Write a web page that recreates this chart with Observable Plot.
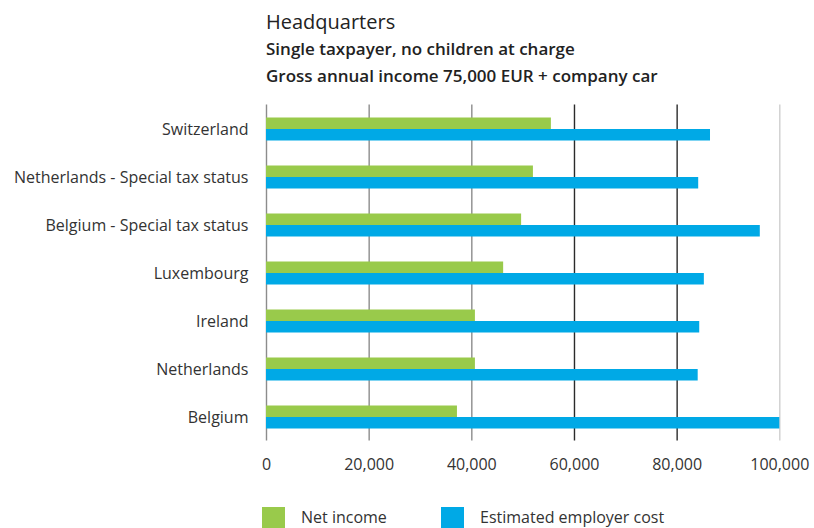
<!DOCTYPE html>
<html>
<head>
<meta charset="utf-8">
<script src="https://cdn.jsdelivr.net/npm/d3@7"></script>
<script src="https://cdn.jsdelivr.net/npm/@observablehq/plot@0.6"></script>
<style>
  html, body { margin: 0; padding: 0; background: #fff; }
  body { width: 814px; height: 528px; position: relative; overflow: hidden; font-family: "Open Sans", sans-serif; color: #333; }
  .t { position: absolute; left: 266px; white-space: nowrap; line-height: 1; color: #222; }
  #title { top: 11.5px; font-size: 20px; }
  #sub1 { top: 40px; font-size: 17px; font-weight: 600; }
  #sub2 { top: 66.6px; font-size: 17px; font-weight: 600; }
  #chart { position: absolute; left: 0; top: 90px; }
  .sw { position: absolute; top: 507px; width: 23px; height: 23px; }
  .lt { position: absolute; top: 509px; font-size: 16px; line-height: 1; color: #333; white-space: nowrap; }
</style>
</head>
<body>
<div class="t" id="title">Headquarters</div>
<div class="t" id="sub1">Single taxpayer, no children at charge</div>
<div class="t" id="sub2">Gross annual income 75,000 EUR + company car</div>
<div id="chart"></div>
<div class="sw" style="left:262px;background:#99ca4b"></div>
<div class="lt" style="left:301px">Net income</div>
<div class="sw" style="left:441px;background:#00a9e6"></div>
<div class="lt" style="left:480px">Estimated employer cost</div>
<script>
const countries = [
  "Switzerland",
  "Netherlands - Special tax status",
  "Belgium - Special tax status",
  "Luxembourg",
  "Ireland",
  "Netherlands",
  "Belgium"
];
const netIncome = [55500, 52000, 49700, 46200, 40700, 40700, 37200];
const employerCost = [86500, 84200, 96200, 85300, 84400, 84100, 100000];
const xTicks = [0, 20000, 40000, 60000, 80000, 100000];
const seriesNames = ["Net income", "Estimated employer cost"];

const rows = countries.map((c, i) => ({country: c, net: netIncome[i], cost: employerCost[i]}));
const gridColor = v => v >= 100000 ? "#cfcfcf" : v >= 60000 ? "#2b2b2b" : "#8c8c8c";

const chart = Plot.plot({
  width: 814,
  height: 415,
  marginLeft: 266,
  marginRight: 34.7,
  marginTop: 14.5,
  marginBottom: 64.5,
  style: {fontFamily: "'Open Sans', sans-serif", fontSize: "16px", color: "#333", background: "#fff"},
  x: {domain: [0, 100000], ticks: xTicks, tickFormat: d3.format(","), tickSize: 0, tickPadding: 18, label: null},
  y: {domain: countries, padding: 0, tickSize: 0, tickPadding: 18, label: null},
  marks: [
    Plot.ruleX(xTicks, {x: d => d, stroke: gridColor, strokeWidth: 1.4}),
    Plot.barX(rows, {y: "country", x: "net", fill: "#99ca4b", insetTop: 12.5, insetBottom: 24, title: d => seriesNames[0]}),
    Plot.barX(rows, {y: "country", x: "cost", fill: "#00a9e6", insetTop: 24, insetBottom: 12.5, title: d => seriesNames[1]})
  ]
});
document.getElementById("chart").appendChild(chart);
</script>
</body>
</html>
